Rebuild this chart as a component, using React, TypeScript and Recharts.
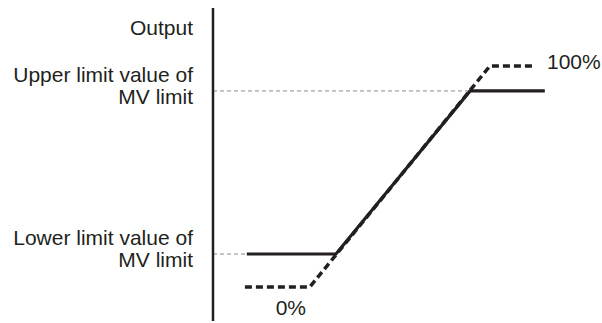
import { LineChart, Line, XAxis, YAxis, ReferenceLine, LabelList } from "recharts"

// input axis 0..100, output axis 0..100 (arbitrary units)
let solidX = [8.7, 31.6, 66.1, 85.3]
let solidY = [21.4, 21.4, 73.5, 73.5]
let dashedX = [8.2, 24.9, 71.2, 82.0]
let dashedY = [10.9, 10.9, 81.5, 81.5]
let lowerLimit = 21.4
let upperLimit = 73.5
let outputTick = 93.6
let pctLabels = ["", "0%", "", "100%"]

let ink = "#231f20"
let font = "'Liberation Sans', Arial, sans-serif"

let solidData = solidX.map((x, i) => ({ x, y: solidY[i] }))
let dashedData = dashedX.map((x, i) => ({ x, y: dashedY[i], label: pctLabels[i] }))

let tickLines: Record<string, string[]> = {
  [String(outputTick)]: ["Output"],
  [String(upperLimit)]: ["Upper limit value of", "MV limit"],
  [String(lowerLimit)]: ["Lower limit value of", "MV limit"],
}

let YTick = ({ x, y, payload }: any) => {
  let lines = tickLines[String(payload.value)] ?? []
  let start = lines.length === 1 ? 7 : -9
  return (
    <text x={x} y={y} textAnchor="end" fill={ink} fontSize={21} fontFamily={font}>
      {lines.map((l, i) => (
        <tspan key={i} x={x} y={y + start + i * 22}>{l}</tspan>
      ))}
    </text>
  )
}

let PctLabel = ({ x, y, index }: any) => {
  let text = pctLabels[index]
  if (!text) return null
  if (index === 1) {
    return <text x={x - 19} y={y + 28} textAnchor="middle" fill={ink} fontSize={21} fontFamily={font}>{text}</text>
  }
  return <text x={x + 15} y={y + 3} textAnchor="start" fill={ink} fontSize={21} fontFamily={font}>{text}</text>
}

export default function App() {
  return (
    <div style={{ position: "absolute", left: 0, top: 0, background: "#fff" }}>
      <LineChart width={602} height={323} margin={{ top: 8, right: 0, bottom: 2, left: 0 }}>
        <XAxis
          type="number"
          dataKey="x"
          domain={[0, 100]}
          height={0}
          tick={false}
          tickLine={false}
          axisLine={{ stroke: ink, strokeWidth: 2.5 }}
        />
        <YAxis
          type="number"
          domain={[0, 100]}
          width={213}
          ticks={[lowerLimit, upperLimit, outputTick]}
          tick={<YTick />}
          tickLine={false}
          tickSize={0}
          tickMargin={20}
          axisLine={{ stroke: ink, strokeWidth: 2.5 }}
        />
        <ReferenceLine
          segment={[{ x: 0, y: upperLimit }, { x: solidX[2], y: upperLimit }]}
          stroke="#888"
          strokeWidth={1}
          strokeDasharray="4 3"
        />
        <ReferenceLine
          segment={[{ x: 0, y: lowerLimit }, { x: solidX[0], y: lowerLimit }]}
          stroke="#888"
          strokeWidth={1}
          strokeDasharray="4 3"
        />
        <Line
          data={dashedData}
          dataKey="y"
          type="linear"
          stroke={ink}
          strokeWidth={3.5}
          strokeDasharray="7 4"
          dot={false}
          isAnimationActive={false}
        >
          <LabelList dataKey="label" content={<PctLabel />} />
        </Line>
        <Line
          data={solidData}
          dataKey="y"
          type="linear"
          stroke={ink}
          strokeWidth={3.2}
          dot={false}
          isAnimationActive={false}
        />
      </LineChart>
    </div>
  )
}
